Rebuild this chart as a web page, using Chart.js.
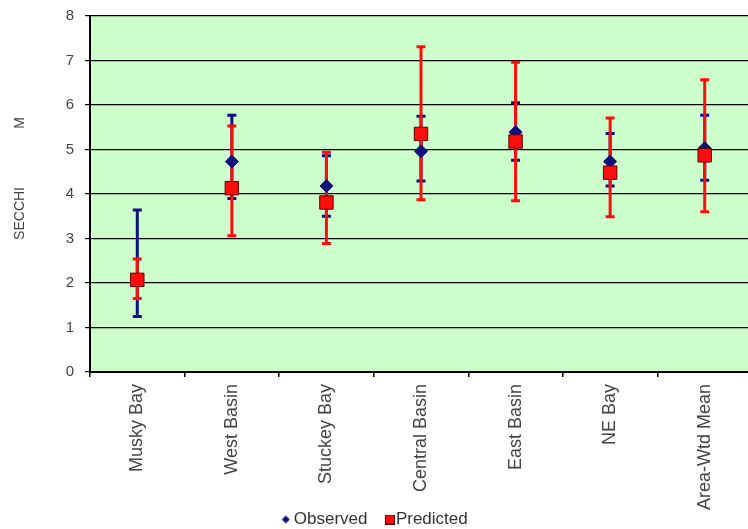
<!DOCTYPE html>
<html>
<head>
<meta charset="utf-8">
<script src="https://cdn.jsdelivr.net/npm/chart.js@4.4.0/dist/chart.umd.min.js"></script>
<style>
  html, body { margin: 0; padding: 0; background: #fff; overflow: hidden; }
  #wrap { width: 756px; height: 529px; }
  #secchi { display: block; width: 756px; height: 529px; }
</style>
</head>
<body>
<div id="wrap"><canvas id="secchi" width="756" height="529"></canvas></div>
<script>
// categories along x
const categories = ['Musky Bay', 'West Basin', 'Stuckey Bay', 'Central Basin', 'East Basin', 'NE Bay', 'Area-Wtd Mean'];

// observed secchi depth (m) with error range
const observed = [2.07, 4.73, 4.18, 4.96, 5.39, 4.73, 5.03];
const observedLow = [1.25, 3.90, 3.50, 4.29, 4.76, 4.18, 4.31];
const observedHigh = [3.64, 5.77, 4.86, 5.75, 6.05, 5.36, 5.77];

// predicted secchi depth (m) with error range
const predicted = [2.07, 4.13, 3.81, 5.35, 5.18, 4.48, 4.87];
const predictedLow = [1.65, 3.06, 2.89, 3.87, 3.85, 3.49, 3.60];
const predictedHigh = [2.54, 5.53, 4.94, 7.31, 6.96, 5.71, 6.57];

const yTicks = [0, 1, 2, 3, 4, 5, 6, 7, 8];

const blue = '#10107e';
const red = '#ff0d0d';
const textColor = '#444';
const font = 'Liberation Sans, Arial, sans-serif';

// small canvases used as legend markers
function legendIcon(shape) {
  const c = document.createElement('canvas');
  c.width = 16; c.height = 10;
  const g = c.getContext('2d');
  if (shape === 'diamond') {
    g.fillStyle = blue;
    g.beginPath();
    g.moveTo(9, 1); g.lineTo(13, 5); g.lineTo(9, 9); g.lineTo(5, 5);
    g.closePath();
    g.fill();
  } else {
    g.fillStyle = red;
    g.fillRect(6.5, 0.5, 9, 9);
    g.strokeStyle = '#5a0000';
    g.lineWidth = 1;
    g.strokeRect(6.5, 0.5, 9, 9);
  }
  return c;
}
const icons = [legendIcon('diamond'), legendIcon('square')];

// green plot background
const plotBackground = {
  id: 'plotBackground',
  beforeDraw(chart) {
    const { ctx, chartArea: a } = chart;
    ctx.save();
    ctx.fillStyle = '#ccffcc';
    ctx.fillRect(a.left, a.top, a.right - a.left, a.bottom - a.top);
    ctx.restore();
  }
};

// vertical error bars with caps, drawn under the markers
const errorBars = {
  id: 'errorBars',
  beforeDatasetsDraw(chart) {
    const { ctx, scales: { x, y } } = chart;
    const sets = [[observedLow, observedHigh, blue], [predictedLow, predictedHigh, red]];
    ctx.save();
    sets.forEach(([lo, hi, color]) => {
      ctx.strokeStyle = color;
      ctx.lineWidth = 3;
      categories.forEach((c, i) => {
        const px = x.getPixelForValue(i);
        const top = y.getPixelForValue(hi[i]);
        const bot = y.getPixelForValue(lo[i]);
        ctx.beginPath();
        ctx.moveTo(px, top); ctx.lineTo(px, bot);
        ctx.moveTo(px - 4.5, top); ctx.lineTo(px + 4.5, top);
        ctx.moveTo(px - 4.5, bot); ctx.lineTo(px + 4.5, bot);
        ctx.stroke();
      });
    });
    ctx.restore();
  }
};

new Chart(document.getElementById('secchi'), {
  type: 'line',
  data: {
    labels: categories,
    datasets: [
      {
        label: 'Observed',
        data: observed,
        showLine: false,
        pointStyle: 'rectRot',
        pointRadius: 6.5,
        pointHoverRadius: 6.5,
        backgroundColor: blue,
        borderColor: blue,
        borderWidth: 1,
        order: 2
      },
      {
        label: 'Predicted',
        data: predicted,
        showLine: false,
        pointStyle: 'rect',
        pointRadius: 9.5,
        pointHoverRadius: 9.5,
        backgroundColor: red,
        borderColor: '#5a0000',
        borderWidth: 1,
        order: 1
      }
    ]
  },
  options: {
    responsive: false,
    animation: false,
    layout: { autoPadding: false, padding: { top: 16, right: 4, bottom: -9, left: 0 } },
    plugins: {
      tooltip: { enabled: false },
      legend: {
        position: 'bottom',
        labels: {
          usePointStyle: true,
          pointStyleWidth: 1,
          boxHeight: 10,
          padding: 0,
          color: '#333',
          font: { family: font, size: 17 },
          sort: (a, b) => a.datasetIndex - b.datasetIndex,
          generateLabels: (chart) =>
            Chart.defaults.plugins.legend.labels.generateLabels(chart)
              .map((l) => ({
                ...l,
                text: l.datasetIndex === 0 ? l.text + '    ' : l.text,
                pointStyle: icons[l.datasetIndex]
              }))
        }
      }
    },
    scales: {
      x: {
        offset: true,
        afterFit: (scale) => {
          scale.height = 139;
          scale.paddingLeft = 0;
          scale.paddingRight = 0;
        },
        grid: {
          offset: true,
          drawOnChartArea: false,
          drawTicks: true,
          tickLength: 5,
          color: '#000',
          lineWidth: 1.5
        },
        border: { color: '#000', width: 2 },
        ticks: {
          minRotation: 90,
          maxRotation: 90,
          padding: 7,
          color: textColor,
          font: { family: font, size: 18 }
        }
      },
      y: {
        min: 0,
        max: 8,
        afterFit: (scale) => {
          scale.width = 90;
          scale.paddingTop = 0;
          scale.paddingBottom = 0;
        },
        afterBuildTicks: (scale) => { scale.ticks = yTicks.map(v => ({ value: v })); },
        grid: {
          color: '#000',
          lineWidth: 1.2,
          tickLength: 5
        },
        border: { color: '#000', width: 2 },
        ticks: {
          padding: 11,
          color: textColor,
          font: { family: font, size: 15 }
        },
        title: {
          display: true,
          text: '        SECCHI               M',
          color: textColor,
          font: { family: font, size: 14 },
          padding: { top: 12, bottom: 0 }
        }
      }
    }
  },
  plugins: [plotBackground, errorBars]
});
</script>
</body>
</html>
